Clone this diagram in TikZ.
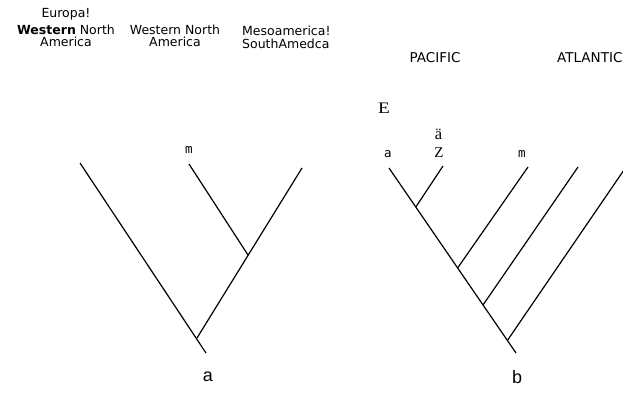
\documentclass[tikz,border=0pt]{standalone}
\usepackage{fontspec}
\setmainfont{DejaVu Sans}
\newfontfamily\serifface{Liberation Serif}
\newfontfamily\monoface{DejaVu Sans Mono}
\newfontfamily\lsans{Liberation Sans}
\begin{document}
\begin{tikzpicture}[x=1pt,y=-1pt,
  branch/.style={line width=1.2pt, black},
  toplabel/.style={font=\fontsize{12.5}{12}\selectfont, inner sep=0pt, anchor=base},
  ocean/.style={font=\fontsize{13.5}{13.5}\selectfont, inner sep=0pt, anchor=base},
  tipmono/.style={font=\monoface\fontsize{12.5}{12.5}\selectfont, inner sep=0pt, anchor=base},
  tipserif/.style={font=\serifface\fontsize{16.5}{16.5}\selectfont, inner sep=0pt, anchor=base},
  treelabel/.style={font=\lsans\fontsize{18}{18}\selectfont, inner sep=0pt, anchor=base}]
\useasboundingbox (0,0) rectangle (623,392);
\clip (0,0) rectangle (623,392);
% top labels
\node[toplabel] (eu) at (66,17) {Europa!};
\node[toplabel, align=center] (wna1) at (66,46.5) {\textbf{Western} North\\America};
\node[toplabel, align=center] (wna2) at (175,46.5) {Western North\\America};
\node[toplabel, align=left, anchor=base west, font=\fontsize{12.5}{13}\selectfont] (msa) at (242,48) {Mesoamerica!\\SouthAmedca};
\node[ocean] (pac) at (435,62) {PACIFIC};
\node[ocean, anchor=base west] (atl) at (557,62) {ATLANTIC};
% tree a
\coordinate (la1) at (80,163);
\coordinate (la2) at (189,164);
\coordinate (la3) at (302,168);
\coordinate (ja2) at (248,255);
\coordinate (ja1) at (197,338);
\coordinate (ra) at (206,353);
\draw[branch] (la1) -- (ra);
\draw[branch] (la3) -- (ja1);
\draw[branch] (la2) -- (ja2);
\node[tipmono] (ma) at (189,153) {m};
\node[treelabel] (lblA) at (208,381) {a};
% tree b
\coordinate (lb1) at (389,168);
\coordinate (rb) at (516,353);
\coordinate (jb1) at (415.8,207);
\coordinate (jb2) at (457.6,268);
\coordinate (jb3) at (483,305);
\coordinate (jb4) at (507.7,340);
\coordinate (lb2) at (443,166);
\coordinate (lb3) at (528,167);
\coordinate (lb4) at (578,167);
\coordinate (lb5) at (626,167);
\draw[branch] (lb1) -- (rb);
\draw[branch] (jb1) -- (lb2);
\draw[branch] (jb2) -- (lb3);
\draw[branch] (jb3) -- (lb4);
\draw[branch] (jb4) -- (lb5);
\node[font=\serifface\fontsize{16}{16}\selectfont, inner sep=0pt, anchor=base, xscale=1.2] (E) at (384,113) {E};
\node[tipserif] (auml) at (438.5,139) {ä};
\node[tipserif, font=\serifface\fontsize{15}{15}\selectfont] (Z) at (439,157) {Z};
\node[tipmono] (ab) at (388,157) {a};
\node[tipmono] (mb) at (522,157) {m};
\node[tipserif] (eight) at (627,140) {8};
\node[treelabel] (lblB) at (517,383) {b};
\end{tikzpicture}
\end{document}
